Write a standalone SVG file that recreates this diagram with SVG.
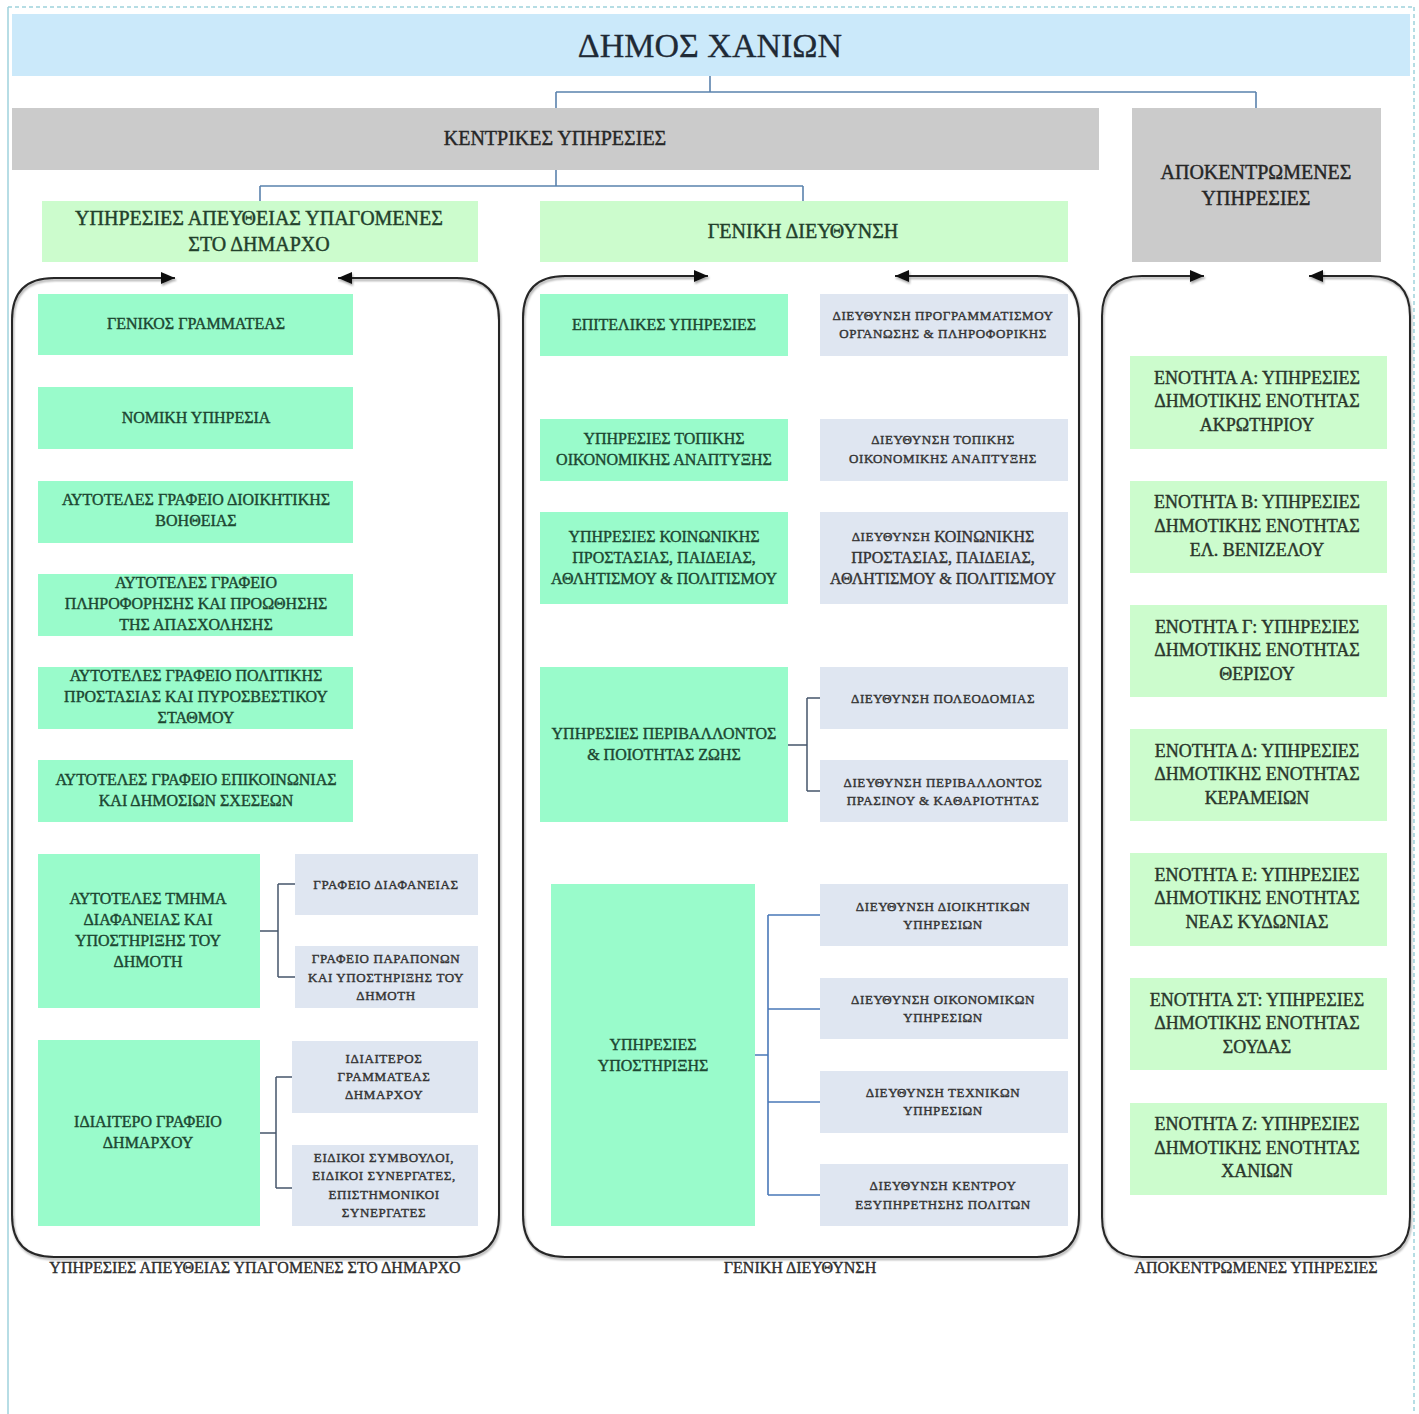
<svg xmlns="http://www.w3.org/2000/svg" width="1419" height="1414" viewBox="0 0 1419 1414">
<style>
text{font-family:"Liberation Serif","DejaVu Serif",serif;text-anchor:middle;dominant-baseline:central;stroke-width:0.4px}
.hdr{fill:#cbe9fa}
.gray{fill:#cbcbcb}
.lg{fill:#ccfccd}
.mint{fill:#99fbcb}
.gb{fill:#dfe6f1}
.t34{font-size:34px;fill:#1f2a36;stroke:#1f2a36;stroke-width:0.3px}
.t20{font-size:20px;fill:#262626;stroke:#262626}
.t20g{font-size:20px;fill:#22402b;stroke:#22402b}
.t16{font-size:16px;fill:#1c4631;stroke:#1c4631}
.t18{font-size:18px;fill:#2a372c;stroke:#2a372c}
.t13{font-size:13px;letter-spacing:0.6px;fill:#333;stroke:#333}
.t16b{font-size:16px;fill:#333;stroke:#333}
.lbl{font-size:16px;fill:#2e2e2e;stroke:#2e2e2e}
.conn{fill:none;stroke:#5a82ad;stroke-width:1.6}
.conn2{fill:none;stroke:#46556b;stroke-width:1.5}
.conn3{fill:none;stroke:#4a78b8;stroke-width:1.6}
.cont{fill:none;stroke:#262626;stroke-width:2;marker-start:url(#arS);marker-end:url(#arE);filter:url(#sh)}
.frame{fill:none;stroke:#9fd2dc;stroke-width:1.5}
</style>
<defs>
<marker id="arS" markerUnits="userSpaceOnUse" markerWidth="14" markerHeight="12" viewBox="0 0 14 12" refX="14" refY="6" orient="auto-start-reverse"><path d="M0,0 L14,6 L0,12 z" fill="#111"/></marker>
<marker id="arE" markerUnits="userSpaceOnUse" markerWidth="14" markerHeight="12" viewBox="0 0 14 12" refX="14" refY="6" orient="auto"><path d="M0,0 L14,6 L0,12 z" fill="#111"/></marker>
<filter id="sh" x="-5%" y="-5%" width="110%" height="110%"><feDropShadow dx="1" dy="2" stdDeviation="1" flood-color="#000" flood-opacity="0.35"/></filter>
</defs>
<rect width="1419" height="1414" fill="#ffffff"/>
<g id="frame">
<line class="frame" x1="8" y1="7" x2="1414" y2="7" stroke-dasharray="4 3"/>
<line class="frame" x1="8" y1="7" x2="8" y2="1414"/>
<line class="frame" x1="1414" y1="7" x2="1414" y2="1414" stroke-dasharray="4 3"/>
</g>

<g id="connectors">
<path class="conn" d="M710,76 V92 M556,92 H1256 M556,92 V108 M1256,92 V108"/>
<path class="conn" d="M556,170 V186 M260,186 H803 M260,186 V201 M803,186 V201"/>
<path class="conn2" d="M260,931 H278 M278,884 V977 M278,884 H295 M278,977 H295"/>
<path class="conn2" d="M260,1133 H276 M276,1077 V1188 M276,1077 H292 M276,1188 H292"/>
<path class="conn2" d="M788,745 H807 M807,698 V791 M807,698 H820 M807,791 H820"/>
<path class="conn3" d="M755,1055 H768 M768,915 V1195 M768,915 H820 M768,1009 H820 M768,1102 H820 M768,1195 H820"/>
</g>

<g id="containers">
<path id="cont-left" class="cont" d="M175,278 H54 Q12,278 12,320 V1215 Q12,1257 54,1257 H457 Q499,1257 499,1215 V320 Q499,278 457,278 H338"/>
<path id="cont-mid" class="cont" d="M708,276 H565 Q523,276 523,318 V1215 Q523,1257 565,1257 H1037 Q1079,1257 1079,1215 V318 Q1079,276 1037,276 H895"/>
<path id="cont-right" class="cont" d="M1204,276 H1142 Q1102,276 1102,316 V1217 Q1102,1257 1142,1257 H1370 Q1410,1257 1410,1217 V316 Q1410,276 1370,276 H1309"/>
<text class="lbl" x="255" y="1267">ΥΠΗΡΕΣΙΕΣ ΑΠΕΥΘΕΙΑΣ ΥΠΑΓΟΜΕΝΕΣ ΣΤΟ ΔΗΜΑΡΧΟ</text>
<text class="lbl" x="800" y="1267">ΓΕΝΙΚΗ ΔΙΕΥΘΥΝΣΗ</text>
<text class="lbl" x="1256" y="1267">ΑΠΟΚΕΝΤΡΩΜΕΝΕΣ ΥΠΗΡΕΣΙΕΣ</text>
</g>

<g id="n-dimos"><rect class="hdr" x="12" y="14" width="1398" height="62"/><text class="t34" x="710" y="45">ΔΗΜΟΣ ΧΑΝΙΩΝ</text></g>
<g id="n-kentrikes"><rect class="gray" x="12" y="108" width="1087" height="62"/><text class="t20" x="555" y="138">ΚΕΝΤΡΙΚΕΣ ΥΠΗΡΕΣΙΕΣ</text></g>
<g id="n-apokentromenes"><rect class="gray" x="1132" y="108" width="249" height="154"/><text class="t20" x="1256" y="172">ΑΠΟΚΕΝΤΡΩΜΕΝΕΣ</text><text class="t20" x="1256" y="198">ΥΠΗΡΕΣΙΕΣ</text></g>
<g id="n-apeftheias"><rect class="lg" x="42" y="201" width="436" height="61"/><text class="t20g" x="259" y="218">ΥΠΗΡΕΣΙΕΣ ΑΠΕΥΘΕΙΑΣ ΥΠΑΓΟΜΕΝΕΣ</text><text class="t20g" x="259" y="244">ΣΤΟ ΔΗΜΑΡΧΟ</text></g>
<g id="n-geniki"><rect class="lg" x="540" y="201" width="528" height="61"/><text class="t20g" x="803" y="231">ΓΕΝΙΚΗ ΔΙΕΥΘΥΝΣΗ</text></g>

<!-- Left column -->
<g id="n-gen-grammateas"><rect class="mint" x="38" y="294" width="315" height="61"/><text class="t16" x="196" y="323">ΓΕΝΙΚΟΣ ΓΡΑΜΜΑΤΕΑΣ</text></g>
<g id="n-nomiki"><rect class="mint" x="38" y="387" width="315" height="62"/><text class="t16" x="196" y="417">ΝΟΜΙΚΗ ΥΠΗΡΕΣΙΑ</text></g>
<g id="n-dioikitikis"><rect class="mint" x="38" y="481" width="315" height="62"/><text class="t16" x="196" y="499">ΑΥΤΟΤΕΛΕΣ ΓΡΑΦΕΙΟ ΔΙΟΙΚΗΤΙΚΗΣ</text><text class="t16" x="196" y="520">ΒΟΗΘΕΙΑΣ</text></g>
<g id="n-apasxolisis"><rect class="mint" x="38" y="574" width="315" height="62"/><text class="t16" x="196" y="582">ΑΥΤΟΤΕΛΕΣ ΓΡΑΦΕΙΟ</text><text class="t16" x="196" y="603">ΠΛΗΡΟΦΟΡΗΣΗΣ ΚΑΙ ΠΡΟΩΘΗΣΗΣ</text><text class="t16" x="196" y="624">ΤΗΣ ΑΠΑΣΧΟΛΗΣΗΣ</text></g>
<g id="n-politikis"><rect class="mint" x="38" y="667" width="315" height="62"/><text class="t16" x="196" y="675">ΑΥΤΟΤΕΛΕΣ ΓΡΑΦΕΙΟ ΠΟΛΙΤΙΚΗΣ</text><text class="t16" x="196" y="696">ΠΡΟΣΤΑΣΙΑΣ ΚΑΙ ΠΥΡΟΣΒΕΣΤΙΚΟΥ</text><text class="t16" x="196" y="717">ΣΤΑΘΜΟΥ</text></g>
<g id="n-epikoinonias"><rect class="mint" x="38" y="760" width="315" height="62"/><text class="t16" x="196" y="779">ΑΥΤΟΤΕΛΕΣ ΓΡΑΦΕΙΟ ΕΠΙΚΟΙΝΩΝΙΑΣ</text><text class="t16" x="196" y="800">ΚΑΙ ΔΗΜΟΣΙΩΝ ΣΧΕΣΕΩΝ</text></g>
<g id="n-diafaneias-tmima"><rect class="mint" x="38" y="854" width="222" height="154"/><text class="t16" x="148" y="898">ΑΥΤΟΤΕΛΕΣ ΤΜΗΜΑ</text><text class="t16" x="148" y="919">ΔΙΑΦΑΝΕΙΑΣ ΚΑΙ</text><text class="t16" x="148" y="940">ΥΠΟΣΤΗΡΙΞΗΣ ΤΟΥ</text><text class="t16" x="148" y="961">ΔΗΜΟΤΗ</text></g>
<g id="n-grafeio-diafaneias"><rect class="gb" x="295" y="854" width="183" height="61"/><text class="t13" x="386" y="884">ΓΡΑΦΕΙΟ ΔΙΑΦΑΝΕΙΑΣ</text></g>
<g id="n-grafeio-paraponon"><rect class="gb" x="295" y="946" width="183" height="62"/><text class="t13" x="386" y="958">ΓΡΑΦΕΙΟ ΠΑΡΑΠΟΝΩΝ</text><text class="t13" x="386" y="977">ΚΑΙ ΥΠΟΣΤΗΡΙΞΗΣ ΤΟΥ</text><text class="t13" x="386" y="995">ΔΗΜΟΤΗ</text></g>
<g id="n-idiaitero"><rect class="mint" x="38" y="1040" width="222" height="186"/><text class="t16" x="148" y="1121">ΙΔΙΑΙΤΕΡΟ ΓΡΑΦΕΙΟ</text><text class="t16" x="148" y="1142">ΔΗΜΑΡΧΟΥ</text></g>
<g id="n-idiaiteros-gr"><rect class="gb" x="292" y="1041" width="186" height="72"/><text class="t13" x="384" y="1058">ΙΔΙΑΙΤΕΡΟΣ</text><text class="t13" x="384" y="1076">ΓΡΑΜΜΑΤΕΑΣ</text><text class="t13" x="384" y="1094">ΔΗΜΑΡΧΟΥ</text></g>
<g id="n-eidikoi"><rect class="gb" x="292" y="1145" width="186" height="81"/><text class="t13" x="384" y="1157">ΕΙΔΙΚΟΙ ΣΥΜΒΟΥΛΟΙ,</text><text class="t13" x="384" y="1175">ΕΙΔΙΚΟΙ ΣΥΝΕΡΓΑΤΕΣ,</text><text class="t13" x="384" y="1194">ΕΠΙΣΤΗΜΟΝΙΚΟΙ</text><text class="t13" x="384" y="1212">ΣΥΝΕΡΓΑΤΕΣ</text></g>

<!-- Middle column -->
<g id="n-epitelikes"><rect class="mint" x="540" y="294" width="248" height="62"/><text class="t16" x="664" y="324">ΕΠΙΤΕΛΙΚΕΣ ΥΠΗΡΕΣΙΕΣ</text></g>
<g id="n-d-programmatismou"><rect class="gb" x="820" y="294" width="248" height="62"/><text class="t13" x="943" y="315">ΔΙΕΥΘΥΝΣΗ ΠΡΟΓΡΑΜΜΑΤΙΣΜΟΥ</text><text class="t13" x="943" y="333">ΟΡΓΑΝΩΣΗΣ &amp; ΠΛΗΡΟΦΟΡΙΚΗΣ</text></g>
<g id="n-topikis"><rect class="mint" x="540" y="419" width="248" height="62"/><text class="t16" x="664" y="438">ΥΠΗΡΕΣΙΕΣ ΤΟΠΙΚΗΣ</text><text class="t16" x="664" y="459">ΟΙΚΟΝΟΜΙΚΗΣ ΑΝΑΠΤΥΞΗΣ</text></g>
<g id="n-d-topikis"><rect class="gb" x="820" y="419" width="248" height="62"/><text class="t13" x="943" y="439">ΔΙΕΥΘΥΝΣΗ ΤΟΠΙΚΗΣ</text><text class="t13" x="943" y="458">ΟΙΚΟΝΟΜΙΚΗΣ ΑΝΑΠΤΥΞΗΣ</text></g>
<g id="n-koinonikis"><rect class="mint" x="540" y="512" width="248" height="92"/><text class="t16" x="664" y="536">ΥΠΗΡΕΣΙΕΣ ΚΟΙΝΩΝΙΚΗΣ</text><text class="t16" x="664" y="557">ΠΡΟΣΤΑΣΙΑΣ, ΠΑΙΔΕΙΑΣ,</text><text class="t16" x="664" y="578">ΑΘΛΗΤΙΣΜΟΥ &amp; ΠΟΛΙΤΙΣΜΟΥ</text></g>
<g id="n-d-koinonikis"><rect class="gb" x="820" y="512" width="248" height="92"/><text class="t16b" x="943" y="536"><tspan font-size="13" letter-spacing="0.6">ΔΙΕΥΘΥΝΣΗ </tspan>ΚΟΙΝΩΝΙΚΗΣ</text><text class="t16b" x="943" y="557">ΠΡΟΣΤΑΣΙΑΣ, ΠΑΙΔΕΙΑΣ,</text><text class="t16b" x="943" y="578">ΑΘΛΗΤΙΣΜΟΥ &amp; ΠΟΛΙΤΙΣΜΟΥ</text></g>
<g id="n-perivallontos"><rect class="mint" x="540" y="667" width="248" height="155"/><text class="t16" x="664" y="733">ΥΠΗΡΕΣΙΕΣ ΠΕΡΙΒΑΛΛΟΝΤΟΣ</text><text class="t16" x="664" y="754">&amp; ΠΟΙΟΤΗΤΑΣ ΖΩΗΣ</text></g>
<g id="n-d-poleodomias"><rect class="gb" x="820" y="667" width="248" height="62"/><text class="t13" x="943" y="698">ΔΙΕΥΘΥΝΣΗ ΠΟΛΕΟΔΟΜΙΑΣ</text></g>
<g id="n-d-perivallontos"><rect class="gb" x="820" y="760" width="248" height="62"/><text class="t13" x="943" y="782">ΔΙΕΥΘΥΝΣΗ ΠΕΡΙΒΑΛΛΟΝΤΟΣ</text><text class="t13" x="943" y="800">ΠΡΑΣΙΝΟΥ &amp; ΚΑΘΑΡΙΟΤΗΤΑΣ</text></g>
<g id="n-ypostirixis"><rect class="mint" x="551" y="884" width="204" height="342"/><text class="t16" x="653" y="1044">ΥΠΗΡΕΣΙΕΣ</text><text class="t16" x="653" y="1065">ΥΠΟΣΤΗΡΙΞΗΣ</text></g>
<g id="n-d-dioikitikon"><rect class="gb" x="820" y="884" width="248" height="62"/><text class="t13" x="943" y="906">ΔΙΕΥΘΥΝΣΗ ΔΙΟΙΚΗΤΙΚΩΝ</text><text class="t13" x="943" y="924">ΥΠΗΡΕΣΙΩΝ</text></g>
<g id="n-d-oikonomikon"><rect class="gb" x="820" y="978" width="248" height="61"/><text class="t13" x="943" y="999">ΔΙΕΥΘΥΝΣΗ ΟΙΚΟΝΟΜΙΚΩΝ</text><text class="t13" x="943" y="1017">ΥΠΗΡΕΣΙΩΝ</text></g>
<g id="n-d-technikon"><rect class="gb" x="820" y="1071" width="248" height="62"/><text class="t13" x="943" y="1092">ΔΙΕΥΘΥΝΣΗ ΤΕΧΝΙΚΩΝ</text><text class="t13" x="943" y="1110">ΥΠΗΡΕΣΙΩΝ</text></g>
<g id="n-d-kep"><rect class="gb" x="820" y="1164" width="248" height="62"/><text class="t13" x="943" y="1185">ΔΙΕΥΘΥΝΣΗ ΚΕΝΤΡΟΥ</text><text class="t13" x="943" y="1204">ΕΞΥΠΗΡΕΤΗΣΗΣ ΠΟΛΙΤΩΝ</text></g>

<!-- Right column -->
<g id="n-enotita-a"><rect class="lg" x="1130" y="356" width="257" height="93"/><text class="t18" x="1257" y="378">ΕΝΟΤΗΤΑ Α: ΥΠΗΡΕΣΙΕΣ</text><text class="t18" x="1257" y="401">ΔΗΜΟΤΙΚΗΣ ΕΝΟΤΗΤΑΣ</text><text class="t18" x="1257" y="425">ΑΚΡΩΤΗΡΙΟΥ</text></g>
<g id="n-enotita-b"><rect class="lg" x="1130" y="481" width="257" height="92"/><text class="t18" x="1257" y="502">ΕΝΟΤΗΤΑ Β: ΥΠΗΡΕΣΙΕΣ</text><text class="t18" x="1257" y="526">ΔΗΜΟΤΙΚΗΣ ΕΝΟΤΗΤΑΣ</text><text class="t18" x="1257" y="550">ΕΛ. ΒΕΝΙΖΕΛΟΥ</text></g>
<g id="n-enotita-g"><rect class="lg" x="1130" y="605" width="257" height="92"/><text class="t18" x="1257" y="627">ΕΝΟΤΗΤΑ Γ: ΥΠΗΡΕΣΙΕΣ</text><text class="t18" x="1257" y="650">ΔΗΜΟΤΙΚΗΣ ΕΝΟΤΗΤΑΣ</text><text class="t18" x="1257" y="674">ΘΕΡΙΣΟΥ</text></g>
<g id="n-enotita-d"><rect class="lg" x="1130" y="729" width="257" height="92"/><text class="t18" x="1257" y="751">ΕΝΟΤΗΤΑ Δ: ΥΠΗΡΕΣΙΕΣ</text><text class="t18" x="1257" y="774">ΔΗΜΟΤΙΚΗΣ ΕΝΟΤΗΤΑΣ</text><text class="t18" x="1257" y="798">ΚΕΡΑΜΕΙΩΝ</text></g>
<g id="n-enotita-e"><rect class="lg" x="1130" y="853" width="257" height="93"/><text class="t18" x="1257" y="875">ΕΝΟΤΗΤΑ Ε: ΥΠΗΡΕΣΙΕΣ</text><text class="t18" x="1257" y="898">ΔΗΜΟΤΙΚΗΣ ΕΝΟΤΗΤΑΣ</text><text class="t18" x="1257" y="922">ΝΕΑΣ ΚΥΔΩΝΙΑΣ</text></g>
<g id="n-enotita-st"><rect class="lg" x="1130" y="978" width="257" height="92"/><text class="t18" x="1257" y="1000">ΕΝΟΤΗΤΑ ΣΤ: ΥΠΗΡΕΣΙΕΣ</text><text class="t18" x="1257" y="1023">ΔΗΜΟΤΙΚΗΣ ΕΝΟΤΗΤΑΣ</text><text class="t18" x="1257" y="1047">ΣΟΥΔΑΣ</text></g>
<g id="n-enotita-z"><rect class="lg" x="1130" y="1103" width="257" height="92"/><text class="t18" x="1257" y="1124">ΕΝΟΤΗΤΑ Ζ: ΥΠΗΡΕΣΙΕΣ</text><text class="t18" x="1257" y="1148">ΔΗΜΟΤΙΚΗΣ ΕΝΟΤΗΤΑΣ</text><text class="t18" x="1257" y="1171">ΧΑΝΙΩΝ</text></g>
</svg>
